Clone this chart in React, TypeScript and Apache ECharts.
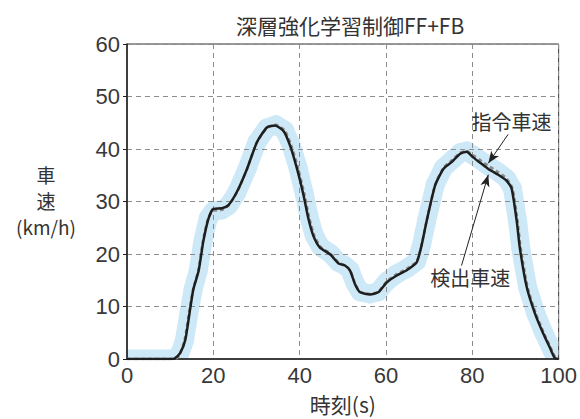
import React, { useEffect, useRef } from "react";
import * as echarts from "echarts";

// Detected vehicle speed (time s, speed km/h)
const detectedTime = [0, 10, 11, 12.3, 13.5, 14.7, 15.4, 16.6, 17.7, 18.9, 20, 22, 23.5, 25.5, 27.8, 30.1, 32.4, 34.3, 36.3, 37.8, 39.4, 40.9, 42, 43.2, 44.7, 47.1, 49, 50.5, 51.7, 52.8, 54, 56.3, 58.2, 60.2, 62.5, 64.8, 67.1, 68.2, 69.4, 71.4, 73.3, 75.2, 77.2, 78.7, 80.2, 81.8, 83.7, 86, 87.9, 89.1, 90.3, 91, 92.6, 94.5, 96.4, 98, 99.1, 100];
const detectedSpeed = [0, 0, 0.1, 1.1, 3.6, 9.9, 13.4, 16.8, 22.5, 26.8, 28.6, 28.7, 29.3, 31.9, 36.2, 41.3, 44.1, 44.5, 43.4, 40.6, 36.2, 31.2, 26.8, 23.4, 21.2, 19.9, 18.2, 17.8, 16.8, 14.3, 12.7, 12.3, 12.7, 14.6, 15.9, 16.9, 18.4, 21.5, 26.2, 33.1, 36.2, 37.5, 39.1, 39.5, 38.4, 37.4, 36.2, 35.1, 34.0, 32.5, 26.2, 21.2, 13.7, 8.7, 4.9, 2.1, 0.2, 0];

// Commanded vehicle speed (time s, speed km/h)
const commandTime = [0, 11, 12, 13.3, 14.5, 15.3, 16.5, 17.6, 18.8, 20, 22, 23.5, 25.5, 27.8, 30.1, 32.4, 34.5, 36.5, 38, 39.6, 41.1, 42.2, 43.4, 44.9, 47.1, 49, 50.5, 51.7, 52.8, 54, 56.3, 58.2, 60.2, 62.5, 64.8, 67.1, 68.2, 69.4, 71.4, 73.3, 75.2, 77.2, 78.7, 80.2, 81.8, 83.7, 86, 87.9, 89.3, 90.5, 91.2, 92.8, 94.7, 96.6, 98.2, 99.3, 100];
const commandSpeed = [0, 0, 0.5, 3.5, 9.5, 13.2, 16.8, 22.5, 26.8, 28.2, 28.4, 29.2, 31.8, 36.2, 41.3, 44.0, 44.6, 43.6, 40.8, 36.5, 31.4, 27.0, 23.5, 21.3, 20.1, 18.4, 17.8, 16.9, 14.5, 12.8, 12.4, 12.8, 14.8, 16.2, 17.2, 18.6, 21.6, 26.3, 33.2, 36.4, 37.8, 39.3, 39.6, 38.8, 37.9, 36.8, 35.6, 34.4, 32.5, 26.2, 21.2, 13.7, 8.7, 4.9, 2.1, 0.2, 0];

// Axis ticks
const xTicks = { min: 0, max: 100, interval: 20 };
const yTicks = { min: 0, max: 60, interval: 10 };

// Callouts: label, label position, arrow tail, arrow head (data coordinates)
const commandCallout = { text: "指令車速", at: [89.1, 45.3], from: [88.3, 42.8], to: [83.7, 37.3] };
const detectedCallout = { text: "検出車速", at: [79.5, 15.5], from: [77.5, 17.8], to: [83.7, 35.1] };

const TITLE = "深層強化学習制御FF+FB";
const X_NAME = "時刻(s)";
const Y_NAME_LINES = ["車", "速", "(km/h)"];
const Y_NAME_CENTERS = [174, 200, 226];

const cjk = "'Noto Sans CJK JP', 'Noto Sans', sans-serif";
const num = "'Liberation Sans', 'DejaVu Sans', sans-serif";

const BAND_COLOR = "#cde8f7";
const BAND_WIDTH = 19;

function pairs(t: number[], v: number[]) {
  return t.map((x, i) => [x, v[i]]);
}

// consecutive command points as [t0, v0, t1, v1] segments for the tolerance band
function segments(t: number[], v: number[]) {
  const out: number[][] = [];
  for (let i = 0; i < t.length - 1; i++) out.push([t[i], v[i], t[i + 1], v[i + 1]]);
  return out;
}

export default function App() {
  const ref = useRef<HTMLDivElement>(null);

  useEffect(() => {
    if (!ref.current) return;
    const chart = echarts.init(ref.current, undefined, { renderer: "svg" });
    const cmd = pairs(commandTime, commandSpeed);
    const det = pairs(detectedTime, detectedSpeed);

    const calloutLine = (c: typeof commandCallout) => [
      { coord: c.from, symbol: "none" },
      { coord: c.to, symbol: "arrow", symbolSize: [7, 12] },
    ];

    const axisLabelStyle = { fontFamily: num, fontSize: 22, color: "#383838" };
    const gridDash = { color: "#8c8c8c", type: [5, 4] as number[], width: 1 };

    chart.setOption({
      animation: false,
      backgroundColor: "#ffffff",
      title: {
        text: TITLE,
        left: 231,
        top: 9,
        textStyle: { fontFamily: cjk, fontSize: 21, fontWeight: "normal", color: "#333" },
      },
      grid: {
        left: 127,
        top: 44,
        right: 21,
        bottom: 56,
        show: true,
        borderColor: "#333",
        borderWidth: 1,
        backgroundColor: "transparent",
      },
      xAxis: {
        type: "value",
        ...xTicks,
        name: X_NAME,
        nameLocation: "middle",
        nameGap: 34,
        nameTextStyle: { fontFamily: cjk, fontSize: 21, color: "#333" },
        axisLine: { show: true, lineStyle: { color: "#222", width: 1.5 } },
        axisTick: { show: false },
        axisLabel: { ...axisLabelStyle, margin: 5 },
        splitLine: { show: true, lineStyle: gridDash },
      },
      yAxis: {
        type: "value",
        ...yTicks,
        axisLine: { show: true, lineStyle: { color: "#222", width: 1.5 } },
        axisTick: { show: true, length: 4, lineStyle: { color: "#222" } },
        axisLabel: { ...axisLabelStyle, margin: 7 },
        splitLine: { show: true, lineStyle: gridDash },
      },
      graphic: Y_NAME_LINES.map((line, i) => ({
        type: "text",
        x: 46,
        y: Y_NAME_CENTERS[i],
        style: {
          text: line,
          fontFamily: cjk,
          fontSize: 19,
          lineHeight: 19,
          fill: "#333",
          textAlign: "center",
          textVerticalAlign: "middle",
        },
      })),
      series: [
        {
          name: "許容範囲",
          type: "custom",
          data: segments(commandTime, commandSpeed),
          clip: true,
          silent: true,
          z: -1,
          encode: { x: [0, 2], y: [1, 3] },
          renderItem: (_params: any, api: any) => {
            const p0 = api.coord([api.value(0), api.value(1)]);
            const p1 = api.coord([api.value(2), api.value(3)]);
            return {
              type: "line",
              shape: { x1: p0[0], y1: p0[1], x2: p1[0], y2: p1[1] },
              style: { stroke: BAND_COLOR, lineWidth: BAND_WIDTH, lineCap: "round" },
            };
          },
        },
        {
          name: "指令車速",
          type: "line",
          data: cmd,
          showSymbol: false,
          smooth: 0.2,
          z: 2,
          lineStyle: { color: "#8a8a8a", width: 2.5, type: [4, 3] },
        },
        {
          name: "検出車速",
          type: "line",
          data: det,
          showSymbol: false,
          smooth: 0.2,
          z: 3,
          lineStyle: { color: "#1e1e1e", width: 2.5 },
          markLine: {
            silent: true,
            animation: false,
            lineStyle: { color: "#222", width: 1, type: "solid" },
            label: { show: false },
            data: [calloutLine(commandCallout), calloutLine(detectedCallout)],
          },
          markPoint: {
            silent: true,
            symbol: "circle",
            symbolSize: 0,
            label: {
              show: true,
              position: "inside",
              fontFamily: cjk,
              fontSize: 20,
              color: "#333",
            },
            data: [
              { coord: commandCallout.at, value: commandCallout.text, label: { formatter: commandCallout.text } },
              { coord: detectedCallout.at, value: detectedCallout.text, label: { formatter: detectedCallout.text } },
            ],
          },
        },
      ],
    });
    return () => chart.dispose();
  }, []);

  return (
    <div
      ref={ref}
      style={{ position: "absolute", left: 0, top: 0, width: 580, height: 419 }}
    />
  );
}
